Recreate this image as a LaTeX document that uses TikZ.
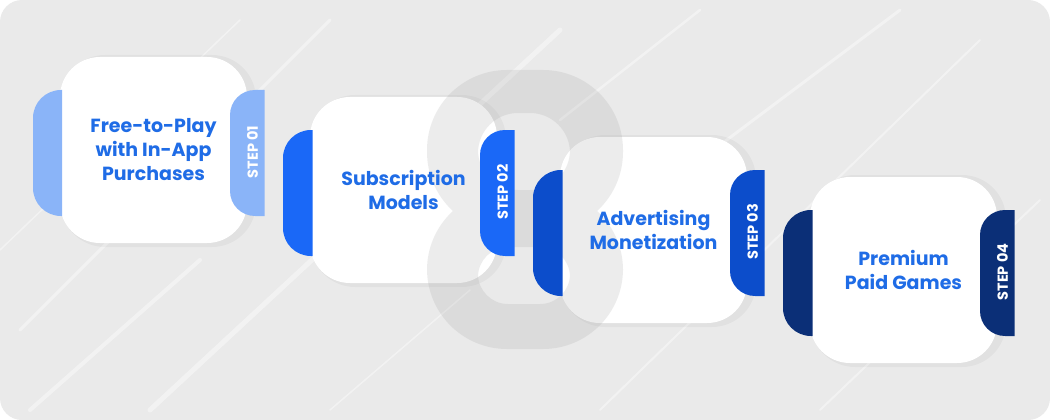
\documentclass[tikz,border=0pt]{standalone}
\usepackage{fontspec}
\setmainfont{Poppins}
\usepackage{tikz}
\usepackage{xcolor}

\definecolor{bggrey}{HTML}{EAEAEA}
\definecolor{titleblue}{HTML}{1F6CE6}
\definecolor{stepone}{HTML}{8AB4F8}
\definecolor{steptwo}{HTML}{1A68F7}
\definecolor{stepthree}{HTML}{0C4DCB}
\definecolor{stepfour}{HTML}{0B2F77}

\tikzset{
  card/.style={fill=white, rounded corners=40pt, minimum width=187pt,
    minimum height=186pt, inner sep=0pt},
  cardshadow/.style={fill=black, fill opacity=0.035, rounded corners=44pt,
    minimum width=195pt, minimum height=192pt, inner sep=0pt},
  title/.style={font=\bfseries\fontsize{19}{24}\selectfont, text=titleblue,
    align=center},
  steplabel/.style={rotate=90, text=white,
    font=\bfseries\fontsize{14.5}{14.5}\selectfont},
  chainring/.style={fill=gray!75, even odd rule},
  streak/.style={white, opacity=0.4, line cap=round},
}

\begin{document}
\begin{tikzpicture}[x=1pt,y=-1pt]
    \useasboundingbox (0,0) rectangle (1050,420);
    % background
    \fill[white] (0,0) rectangle (1050,420);
    \fill[bggrey, rounded corners=22pt] (0,0) rectangle (1050,420);
    \draw[streak, line width=3pt] (20,330) -- (330,20);
    \draw[streak, line width=1.5pt] (0,250) -- (240,20);
    \draw[streak, line width=5pt] (150,410) -- (560,30);
    \draw[streak, line width=2pt] (600,410) -- (980,40);
    \draw[streak, line width=3pt] (700,160) -- (900,10);
    \draw[streak, line width=1.5pt] (330,410) -- (470,290);
    \draw[streak, line width=4pt] (30,410) -- (200,260);
    \draw[streak, line width=2pt] (820,410) -- (1040,200);
    \draw[streak, line width=2.5pt] (560,120) -- (700,10);

    % cards
    \node[cardshadow] (shadow1) at (158.5,151) {};
    \node[card] (card1) at (153.5,150) {};
    \node[cardshadow] (shadow2) at (408.5,191) {};
    \node[card] (card2) at (403.5,190) {};
    \node[cardshadow] (shadow3) at (658.5,231) {};
    \node[card] (card3) at (653.5,230) {};
    \node[cardshadow] (shadow4) at (908.5,271) {};
    \node[card] (card4) at (903.5,270) {};

    % chain links
    \begin{scope}[transparency group, opacity=0.19]
      \fill[chainring, rounded corners=80pt] (427,70) rectangle (623,232)
        [rounded corners=40pt] (478,113) rectangle (570,190);
      \fill[chainring, rounded corners=80pt] (427,190) rectangle (623,349)
        [rounded corners=30pt] (478,247) rectangle (570,304);
    \end{scope}

    % side tabs
    \fill[stepone] (62,90) -- (61,90) arc[start angle=270,end angle=180,radius=28]
      -- (33,188) arc[start angle=180,end angle=90,radius=28] -- (62,216) -- cycle;
    \fill[stepone] (264.5,90) -- (255,90) arc[start angle=270,end angle=180,radius=25]
      -- (230,191) arc[start angle=180,end angle=90,radius=25] -- (264.5,216) -- cycle;

    \fill[steptwo] (312.5,130) -- (311,130) arc[start angle=270,end angle=180,radius=28]
      -- (283,228) arc[start angle=180,end angle=90,radius=28] -- (312.5,256) -- cycle;
    \fill[steptwo] (514.5,130) -- (505,130) arc[start angle=270,end angle=180,radius=25]
      -- (480,231) arc[start angle=180,end angle=90,radius=25] -- (514.5,256) -- cycle;

    \fill[stepthree] (562.5,170) -- (561,170) arc[start angle=270,end angle=180,radius=28]
      -- (533,268) arc[start angle=180,end angle=90,radius=28] -- (562.5,296) -- cycle;
    \fill[stepthree] (764.5,170) -- (755,170) arc[start angle=270,end angle=180,radius=25]
      -- (730,271) arc[start angle=180,end angle=90,radius=25] -- (764.5,296) -- cycle;

    \fill[stepfour] (812.5,210) -- (811,210) arc[start angle=270,end angle=180,radius=28]
      -- (783,308) arc[start angle=180,end angle=90,radius=28] -- (812.5,336) -- cycle;
    \fill[stepfour] (1014.5,210) -- (1005,210) arc[start angle=270,end angle=180,radius=25]
      -- (980,311) arc[start angle=180,end angle=90,radius=25] -- (1014.5,336) -- cycle;

    % labels
    \node[title] (title1) at (card1) {Free-to-Play\\with In-App\\Purchases};
    \node[title] (title2) at (card2) {Subscription\\Models};
    \node[title] (title3) at (card3) {Advertising\\Monetization};
    \node[title] (title4) at (card4) {Premium\\Paid Games};
    \node[steplabel] (step1) at (252.5,152) {STEP 01};
    \node[steplabel] (step2) at (502.5,192) {STEP 02};
    \node[steplabel] (step3) at (752.5,232) {STEP 03};
    \node[steplabel] (step4) at (1002.5,272) {STEP 04};
  \end{tikzpicture}
\end{document}
